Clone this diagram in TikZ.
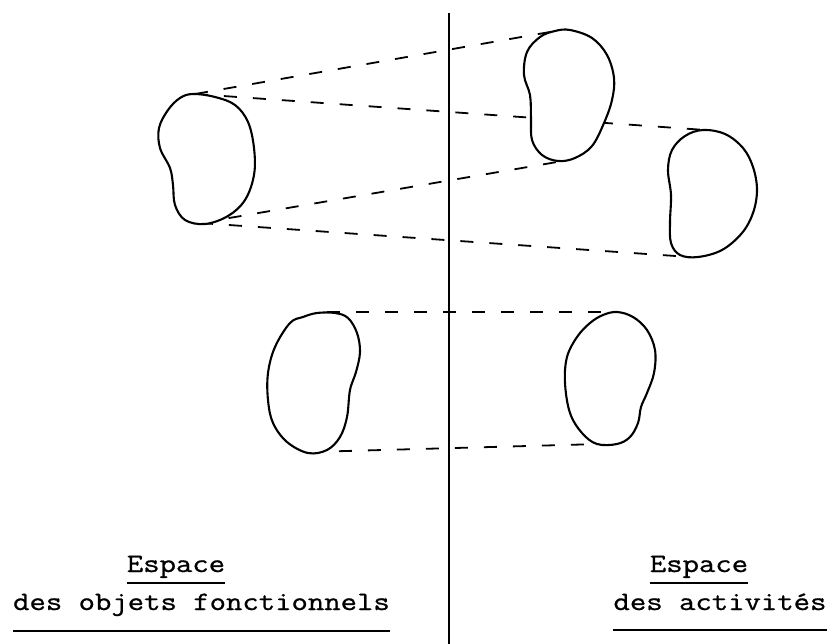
\documentclass[tikz,border=0pt]{standalone}
\usepackage{fontspec}
\newfontfamily\tw[FakeBold=0.9,FakeStretch=1.2]{Latin Modern Mono}
\begin{document}
\begin{tikzpicture}[x=1pt,y=-1pt,
  blob/.style={draw=black,line width=2.1pt,fill=white},
  link/.style={draw=black,line width=1.8pt,dash pattern=on 13pt off 16pt},
  axis/.style={draw=black,line width=1.6pt},
  lbl/.style={inner sep=0pt,font=\tw\fontsize{26.5}{32}\selectfont},
  uline/.style={draw=black,line width=2.2pt}]
\useasboundingbox[fill=white] (0,0) rectangle (835,644);
% connection points
\coordinate (Atop) at (195,94);
\coordinate (Abot) at (200,223);
\coordinate (Btop) at (550,32);
\coordinate (Bbot) at (563,161);
\coordinate (Ctop) at (705,130);
\coordinate (Cbot) at (690,257);
\coordinate (Dtop) at (327,312);
\coordinate (Etop) at (616,312);
\coordinate (Dbot) at (310,452);
\coordinate (Ebot) at (600,444);
\coordinate (Vtop) at (449,13);
\coordinate (Vbot) at (449,644);
% dashed links
\draw[link] (Atop) -- (Btop);
\draw[link] (Atop) -- (Ctop);
\draw[link] (Abot) -- (Bbot);
\draw[link] (Abot) -- (Cbot);
\draw[link] (Dtop) -- (Etop);
\draw[link] (Dbot) -- (Ebot);
% blobs
\draw[blob] plot[smooth cycle,tension=0.6] coordinates {(193,94) (215,97) (235,105) (248,122) (254,148) (254,175) (245,200) (228,216) (205,224) (185,220) (175,205) (173,185) (170,168) (160,148) (159,128) (168,110) (180,98)};
\draw[blob] plot[smooth cycle,tension=0.6] coordinates {(570,30) (592,38) (607,55) (614,78) (612,100) (604,123) (592,146) (575,158) (558,161) (542,155) (532,140) (531,118) (530,95) (524,75) (527,52) (540,37) (555,31)};
\draw[blob] plot[smooth cycle,tension=0.6] coordinates {(703,130) (725,134) (743,148) (753,167) (757,190) (753,213) (742,233) (722,250) (698,257) (680,255) (671,243) (670,222) (671,195) (668,170) (672,150) (685,136)};
\draw[blob] plot[smooth cycle,tension=0.6] coordinates {(317,313) (335,313) (348,318) (357,333) (360,352) (356,372) (350,390) (347,417) (340,437) (327,450) (308,453) (287,442) (273,423) (268,400) (268,373) (275,347) (290,323) (303,317)};
\draw[blob] plot[smooth cycle,tension=0.6] coordinates {(617,312) (633,317) (647,330) (655,350) (654,373) (647,393) (641,407) (638,423) (630,437) (617,444) (597,444) (582,433) (570,413) (565,383) (567,357) (577,337) (590,323) (603,315)};
% axis
\draw[axis] (Vtop) -- (Vbot);
% labels
\node[lbl,anchor=base] (l1) at (176,572) {Espace};
\node[lbl,anchor=base east] (l2) at (390,610) {des objets fonctionnels};
\node[lbl,anchor=base] (r1) at (699,572) {Espace};
\node[lbl,anchor=base] (r2) at (720,610) {des activités};
\draw[uline] ([yshift=-11pt]l1.base west) -- ([yshift=-11pt]l1.base east);
\draw[uline] ([yshift=-21pt]l2.base west) -- ([yshift=-21pt]l2.base east);
\draw[uline] ([yshift=-11pt]r1.base west) -- ([yshift=-11pt]r1.base east);
\draw[uline] ([yshift=-20pt]r2.base west) -- ([yshift=-20pt]r2.base east);
\end{tikzpicture}
\end{document}
